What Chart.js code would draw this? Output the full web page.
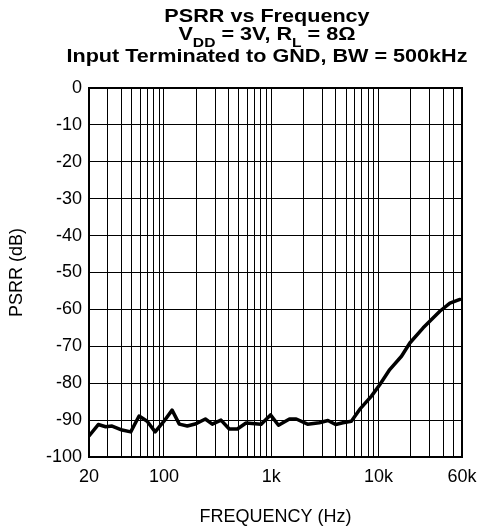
<!DOCTYPE html>
<html>
<head>
<meta charset="utf-8">
<script src="https://cdn.jsdelivr.net/npm/chart.js@4.4.1/dist/chart.umd.min.js"></script>
<style>
  html, body { margin: 0; padding: 0; background: #fff; }
  #psrrChart { display: block; }
</style>
</head>
<body>
<canvas id="psrrChart" width="477" height="531"></canvas>
<script>
// PSRR curve: frequency (Hz) and PSRR (dB)
const freqHz = [20, 24.4, 28.6, 32.8, 40.7, 49, 58.6, 69.7, 82.8, 100,
  119, 139, 165, 199, 243, 282, 340, 406, 483, 582,
  805, 984, 1168, 1479, 1710, 2178, 2800, 3376, 3980, 4656,
  5580, 6672, 8590, 10260, 12720, 16370, 19580, 26080, 37300, 46300, 57400];
const psrrDb = [-94.3, -91.2, -91.8, -91.6, -92.7, -93.2, -88.9, -90.3, -93.2, -90.3,
  -87.3, -91.1, -91.6, -91.0, -89.7, -91.1, -90.0, -92.4, -92.4, -90.8,
  -91.1, -88.6, -91.4, -89.7, -89.7, -91.1, -90.7, -90.1, -91.2, -90.7,
  -90.3, -87.1, -83.5, -80.4, -76.3, -72.7, -69.1, -65.0, -60.5, -58.3, -57.3];

// labelled ticks on the frequency axis
const xTickValues = [20, 100, 1000, 10000, 60000];
const xTickLabels = ['20', '100', '1k', '10k', '60k'];

// title rows, parts flagged as subscript where needed
const titleRows = [
  { y: 22, parts: [{ text: 'PSRR vs Frequency' }] },
  { y: 40, parts: [{ text: 'V' }, { text: 'DD', sub: true }, { text: ' = 3V, R' }, { text: 'L', sub: true }, { text: ' = 8\u03A9' }] },
  { y: 62, parts: [{ text: 'Input Terminated to GND, BW = 500kHz' }] }
];

const FONT = "'Liberation Sans', Arial, Helvetica, sans-serif";

// grid lines at 2..9 x every decade, from 20 Hz to 60 kHz
const xGrid = [];
for (let dec = 10; dec <= 10000; dec *= 10) {
  for (let m = 1; m <= 9; m++) {
    const v = m * dec;
    if (v >= 20 && v <= 60000) xGrid.push(v);
  }
}

const points = freqHz.map((f, i) => ({ x: f, y: psrrDb[i] }));

const titlePlugin = {
  id: 'stackedTitle',
  afterDraw(chart) {
    const ctx = chart.ctx;
    const cx = 267, sx = 1.2;
    const fontFor = p => p.sub ? 'bold 13px ' + FONT : 'bold 18px ' + FONT;
    ctx.save();
    ctx.fillStyle = '#000';
    ctx.textBaseline = 'alphabetic';
    ctx.textAlign = 'left';
    titleRows.forEach(row => {
      let w = 0;
      row.parts.forEach(p => { ctx.font = fontFor(p); w += ctx.measureText(p.text).width; });
      ctx.save();
      ctx.translate(cx, row.y);
      ctx.scale(sx, 1);
      let x = -w / 2;
      row.parts.forEach(p => {
        ctx.font = fontFor(p);
        ctx.fillText(p.text, x, p.sub ? 7 : 0);
        x += ctx.measureText(p.text).width;
      });
      ctx.restore();
    });
    ctx.restore();
  }
};

const framePlugin = {
  id: 'frame',
  afterDraw(chart) {
    const a = chart.chartArea, ctx = chart.ctx;
    ctx.save();
    ctx.strokeStyle = '#000';
    ctx.lineWidth = 2;
    ctx.strokeRect(a.left, a.top, a.right - a.left, a.bottom - a.top);
    ctx.restore();
  }
};

new Chart(document.getElementById('psrrChart'), {
  type: 'line',
  data: {
    datasets: [{
      data: points,
      borderColor: '#000',
      borderWidth: 3.5,
      borderJoinStyle: 'round',
      borderCapStyle: 'round',
      pointRadius: 0,
      tension: 0,
      fill: false
    }]
  },
  options: {
    responsive: false,
    animation: false,
    layout: { padding: { top: 88, right: 15, left: 0, bottom: 0 } },
    plugins: {
      legend: { display: false },
      title: { display: false },
      tooltip: { enabled: false }
    },
    scales: {
      x: {
        type: 'logarithmic',
        min: 20,
        max: 60000,
        afterBuildTicks: s => { s.ticks = xGrid.map(v => ({ value: v })); },
        afterFit: s => { s.height = 74; s.paddingLeft = 0; s.paddingRight = 0; },
        grid: { color: '#000', lineWidth: 1, drawTicks: false },
        border: { color: '#000', width: 2 },
        ticks: {
          autoSkip: false,
          maxRotation: 0,
          padding: 9,
          color: '#000',
          font: { family: FONT, size: 18 },
          callback: v => {
            const i = xTickValues.indexOf(v);
            return i >= 0 ? xTickLabels[i] : '';
          }
        },
        title: {
          display: true,
          text: 'FREQUENCY (Hz)',
          color: '#000',
          font: { family: FONT, size: 18 },
          padding: { top: 0, bottom: 3 }
        }
      },
      y: {
        min: -100,
        max: 0,
        afterFit: s => { s.width = 89; s.paddingTop = 0; s.paddingBottom = 0; },
        grid: { color: '#000', lineWidth: 1, drawTicks: false },
        border: { color: '#000', width: 2 },
        ticks: {
          stepSize: 10,
          padding: 7,
          color: '#000',
          font: { family: FONT, size: 18 }
        },
        title: {
          display: true,
          text: 'PSRR (dB)',
          color: '#000',
          font: { family: FONT, size: 18 },
          padding: { top: 6, bottom: 0 }
        }
      }
    }
  },
  plugins: [titlePlugin, framePlugin]
});
</script>
</body>
</html>
